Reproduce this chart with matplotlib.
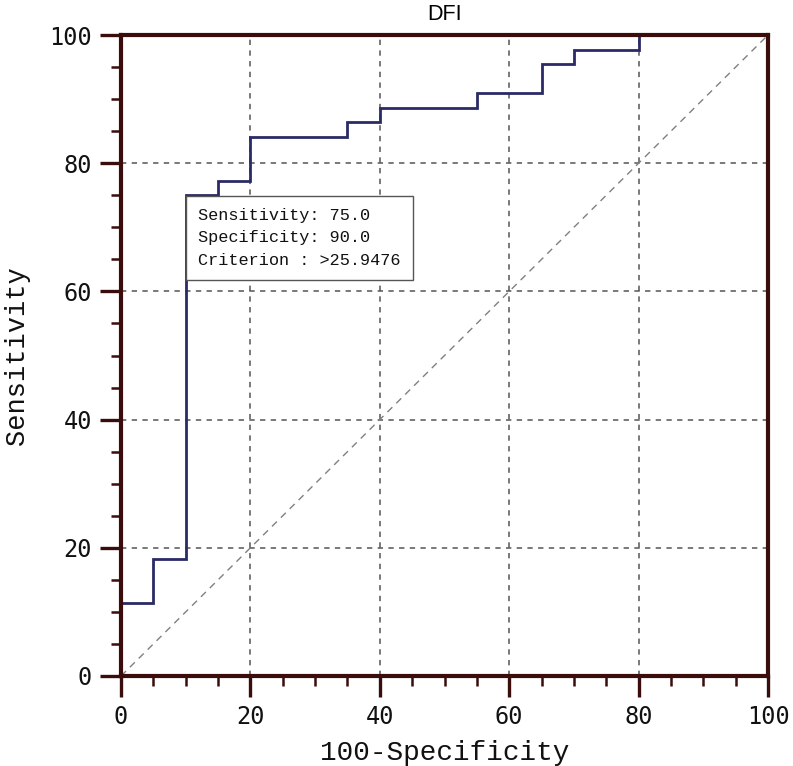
import numpy as np
import matplotlib.pyplot as plt
from matplotlib.ticker import MultipleLocator

## ROC curve points (100-Specificity, Sensitivity)
fpr = [0, 0, 5, 5, 10, 10, 15, 15, 20, 20, 35, 35, 40, 40, 55, 55, 65, 65, 70, 70, 80, 80, 100]
tpr = [0, 11.36, 11.36, 18.18, 18.18, 75.0, 75.0, 77.27, 77.27, 84.09, 84.09, 86.36, 86.36,
       88.64, 88.64, 90.91, 90.91, 95.45, 95.45, 97.73, 97.73, 100, 100]

## optimal cut-off
cut_sens = 75.0
cut_spec = 90.0
cut_crit = '>25.9476'

ticks = [0, 20, 40, 60, 80, 100]

spine_col = '#3a0c0c'
curve_col = '#2a2a66'
grid_col = '#555555'

fig = plt.figure(figsize=(7.93, 7.66), dpi=100)
ax = fig.add_axes([0.1526, 0.1175, 0.8159, 0.8368])

ax.grid(True, color=grid_col, linestyle=(0, (3.5, 3.5)), linewidth=1.1)
ax.plot([0, 100], [0, 100], color='#808080', linestyle=(0, (5, 4)), linewidth=1.0)
ax.plot(fpr, tpr, color=curve_col, linewidth=2.0, solid_joinstyle='miter')

ax.set_xlim(0, 100)
ax.set_ylim(0, 100)
ax.set_xticks(ticks)
ax.set_yticks(ticks)
ax.xaxis.set_minor_locator(MultipleLocator(5))
ax.yaxis.set_minor_locator(MultipleLocator(5))

for side in ['top', 'bottom', 'left', 'right']:
    ax.spines[side].set_color(spine_col)
    ax.spines[side].set_linewidth(3.0)
    ax.spines[side].set_zorder(5)

ax.tick_params(which='major', direction='out', length=15, width=2.4, color=spine_col,
               pad=6, labelsize=17)
ax.tick_params(which='minor', direction='out', length=7.5, width=1.8, color=spine_col)
for lab in ax.get_xticklabels() + ax.get_yticklabels():
    lab.set_family('DejaVu Sans Mono')
    lab.set_color('#111111')

ax.set_xlabel('100-Specificity', family='Liberation Mono', fontsize=20, labelpad=8, color='#111111')
ax.set_ylabel('Sensitivity', family='Liberation Mono', fontsize=19.5, labelpad=14, color='#111111')
ax.set_title('DFI', family='Liberation Sans', fontsize=15.5, pad=11)

## criterion box, its top-left corner sits on the cut-off point
txt = (f'Sensitivity: {cut_sens:.1f}\n'
       f'Specificity: {cut_spec:.1f}\n'
       f'Criterion : {cut_crit}')
box_pad = 0.7
fs = 12.2
off = box_pad * fs
ax.annotate(txt, xy=(100 - cut_spec, cut_sens), xytext=(off + 0.5, -off - 0.5),
            textcoords='offset points', family='Liberation Mono', fontsize=fs,
            ha='left', va='top', linespacing=1.62, zorder=6, color='#111111',
            bbox=dict(boxstyle=f'square,pad={box_pad}', fc='white', ec='#555555', lw=1.0))

fig.savefig('out.png', dpi=100)
